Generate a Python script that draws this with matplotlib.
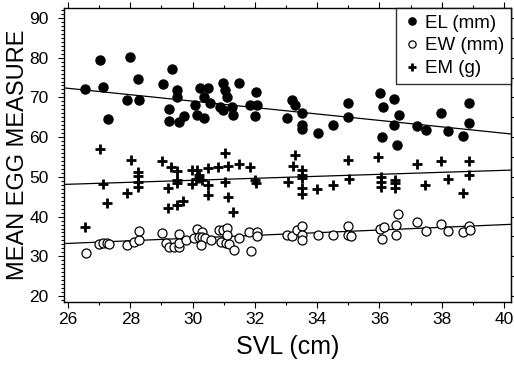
import numpy as np
import matplotlib.pyplot as plt
from matplotlib.ticker import MultipleLocator

plt.rcParams['font.family'] = ['Liberation Sans', 'DejaVu Sans']

# EL (mm) - filled circles
el_svl = [26.55, 27.03, 27.11, 27.27, 27.99, 28.25, 27.90, 28.27, 29.04, 29.34,
          29.23, 29.23, 29.51, 29.51, 29.55, 29.72, 30.08, 30.13, 30.24, 30.50,
          30.35, 30.35, 30.56, 30.99, 31.04, 31.10, 30.88, 30.99, 31.26, 31.31,
          31.50, 32.04, 31.84, 32.06, 32.01, 33.20, 33.30, 33.50, 33.02, 33.50,
          33.50, 34.02, 34.52, 35.00, 35.00, 36.02, 36.10, 36.07, 36.47, 36.62,
          36.47, 36.55, 37.22, 37.48, 37.97, 38.21, 38.68, 38.87, 38.87]
el_val = [72.1, 79.4, 72.7, 64.6, 80.1, 74.6, 69.4, 69.4, 73.3, 77.2,
          67.0, 64.1, 71.9, 70.2, 63.7, 65.3, 68.1, 65.6, 72.3, 72.3,
          70.2, 64.8, 68.5, 73.6, 71.9, 70.2, 67.7, 66.9, 67.7, 65.6,
          73.6, 71.3, 68.1, 68.1, 65.2, 69.4, 68.1, 66.0, 64.8, 63.0,
          62.0, 61.0, 63.1, 68.5, 65.1, 71.0, 67.6, 60.0, 69.7, 65.5,
          63.1, 57.9, 62.7, 61.8, 66.1, 61.6, 60.2, 68.7, 63.6]

# EW (mm) - open circles
ew_svl = [26.57, 27.00, 27.13, 27.26, 27.32, 27.90, 28.12, 28.28, 28.28, 29.03,
          29.14, 29.24, 29.40, 29.56, 29.56, 29.56, 29.78, 30.05, 30.15, 30.31,
          30.20, 30.30, 30.40, 30.26, 30.58, 30.85, 30.96, 31.11, 30.90, 31.06,
          31.17, 31.33, 31.11, 31.49, 31.81, 32.08, 32.08, 31.86, 33.02, 33.20,
          33.35, 33.50, 33.50, 33.50, 34.04, 34.52, 35.00, 35.00, 35.10, 36.02,
          36.07, 36.13, 36.53, 36.53, 36.60, 37.22, 37.50, 37.97, 38.21, 38.67,
          38.86, 38.90]
ew_val = [30.8, 33.0, 33.3, 33.3, 33.0, 32.8, 33.7, 34.1, 36.4, 35.8,
          33.3, 32.4, 32.4, 32.4, 35.5, 33.3, 34.1, 34.5, 36.9, 36.2,
          34.9, 34.9, 34.7, 32.8, 34.1, 36.6, 36.6, 37.1, 33.7, 33.3,
          33.0, 31.6, 35.4, 34.5, 36.2, 36.2, 35.2, 31.3, 35.4, 35.2,
          36.5, 37.6, 35.4, 34.2, 35.4, 35.4, 37.7, 35.4, 35.2, 37.0,
          34.4, 37.5, 37.9, 35.4, 40.6, 38.7, 36.4, 38.1, 36.4, 36.0,
          37.7, 36.6]

# EM (g) - plus signs
em_svl = [26.55, 27.02, 27.13, 27.24, 28.01, 27.90, 28.25, 28.25, 28.25, 28.25,
          29.03, 29.30, 29.51, 29.51, 29.51, 29.22, 29.22, 29.51, 29.69, 29.99,
          30.15, 30.21, 30.10, 30.20, 30.30, 29.99, 30.50, 30.50, 30.50, 30.82,
          31.03, 31.12, 31.03, 31.12, 31.31, 31.49, 31.84, 32.00, 32.05, 33.07,
          33.29, 33.21, 33.50, 33.50, 33.50, 33.50, 33.50, 33.99, 34.50, 35.00,
          35.03, 35.96, 36.04, 36.04, 36.04, 36.50, 36.50, 36.50, 37.20, 37.46,
          37.97, 38.20, 38.86, 38.86, 38.68]
em_val = [37.5, 56.9, 48.1, 43.4, 54.3, 46.0, 51.2, 50.1, 48.8, 47.5,
          54.0, 52.6, 51.5, 49.2, 48.4, 47.3, 42.1, 42.8, 43.9, 51.7,
          51.7, 50.5, 49.5, 49.8, 49.3, 48.1, 52.2, 48.0, 45.4, 52.4,
          56.1, 52.8, 48.8, 45.0, 41.2, 53.2, 52.6, 49.2, 48.4, 48.8,
          55.5, 52.8, 51.7, 50.5, 49.6, 47.1, 45.6, 46.9, 48.0, 54.3,
          49.5, 55.1, 49.9, 48.6, 47.5, 49.2, 48.4, 47.3, 53.2, 48.0,
          54.0, 49.5, 54.0, 50.5, 46.0]

# fitted lines (end values)
line_x = [25.87, 40.22]
el_line = [72.4, 60.8]
em_line = [48.1, 51.7]
ew_line = [33.2, 38.05]

fig = plt.figure(figsize=(5.14, 3.65), dpi=100)
ax = fig.add_axes([0.1245, 0.1726, 0.8695, 0.8054])

ax.plot(line_x, el_line, color='black', lw=0.9)
ax.plot(line_x, em_line, color='black', lw=0.9)
ax.plot(line_x, ew_line, color='black', lw=0.9)

ax.plot(el_svl, el_val, 'o', color='black', ms=6.5, ls='none', label='EL (mm)')
ax.plot(ew_svl, ew_val, 'o', mfc='white', mec='black', mew=0.9, ms=6.5,
        ls='none', label='EW (mm)')
ax.plot(em_svl, em_val, '+', color='black', ms=6.5, mew=2.0, ls='none',
        label='EM (g)')

ax.set_xlim(25.87, 40.22)
ax.set_ylim(18.5, 92.5)
ax.set_xticks(np.arange(26, 41, 2))
ax.set_yticks(np.arange(20, 91, 10))
ax.xaxis.set_minor_locator(MultipleLocator(1))
ax.yaxis.set_minor_locator(MultipleLocator(1))
ax.tick_params(which='both', direction='out', top=True, right=False,
               labelsize=12.5, width=0.8)
ax.tick_params(which='major', length=4, pad=3)
ax.tick_params(which='minor', length=2)
ax.tick_params(axis='y', which='major', pad=7)

sec = ax.secondary_yaxis('right')
sec.set_yticks(np.arange(20, 91, 5))
sec.tick_params(direction='out', length=3, labelright=False, width=0.8)

for s in ax.spines.values():
    s.set_linewidth(1.0)

ax.set_xlabel('SVL (cm)', fontsize=18, labelpad=6)
ax.set_ylabel('MEAN EGG MEASURE', fontsize=17, labelpad=0)

leg = ax.legend(loc='upper right', fontsize=13.5, frameon=True, fancybox=False,
                edgecolor='black', handletextpad=0.2, handlelength=1.0,
                borderaxespad=0.0, labelspacing=0.3, borderpad=0.35,
                markerscale=0.8)
leg.get_frame().set_linewidth(1.0)

fig.savefig('out.png', dpi=100)
